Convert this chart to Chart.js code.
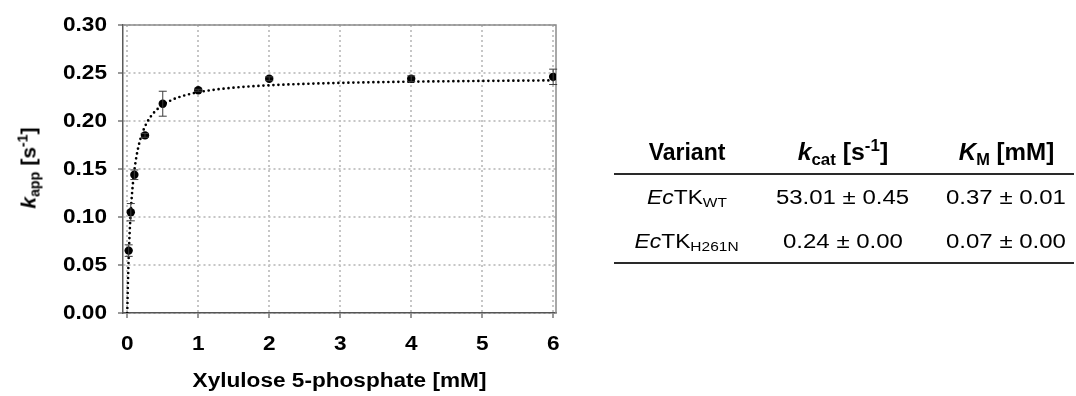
<!DOCTYPE html>
<html>
<head>
<meta charset="utf-8">
<script src="https://cdn.jsdelivr.net/npm/chart.js@4/dist/chart.umd.min.js"></script>
<style>
  html, body { margin: 0; padding: 0; background: #fff; }
  body { width: 1076px; height: 396px; position: relative; overflow: hidden;
         font-family: 'Liberation Sans', Arial, sans-serif; color: #000; }
  #chartBox { position: absolute; left: 0; top: 0; width: 600px; height: 396px; }
  #yTitle { position: absolute; left: 28px; top: 168px; white-space: nowrap;
            font-weight: bold; font-size: 21px; line-height: 1;
            transform: translate(-50%, -50%) rotate(-90deg); }
  #yTitle sub, #yTitle sup, .tbl sub, .tbl sup { line-height: 0; font-size: 0.68em; }
  #yTitle sub { vertical-align: -0.3em; }
  #yTitle sup { vertical-align: 0.55em; }
  .tbl { position: absolute; white-space: nowrap; text-align: center; line-height: 1; }
  .tbl span.cell { display: inline-block; }
  .head { font-weight: bold; font-size: 23px; }
  .body { font-size: 20px; }
  .rule { position: absolute; left: 614px; width: 460px; height: 1.5px; background: #2a2a2a; }
</style>
</head>
<body>
<div id="chartBox"><canvas id="kinetics"></canvas></div>
<div id="yTitle"><i>k</i><sub>app</sub> [s<sup>-1</sup>]</div>
<div id="table"></div>

<script>
// Measured apparent rates of EcTK H261N vs. xylulose 5-phosphate
const xConc   = [0.02, 0.05, 0.1, 0.25, 0.5, 1, 2, 4, 6];              // mM
const kApp    = [0.065, 0.105, 0.144, 0.185, 0.218, 0.232, 0.244, 0.244, 0.246]; // s^-1
const kAppErr = [0.006, 0.009, 0.005, 0.002, 0.013, 0.001, 0.002, 0.003, 0.008];

// Axis ticks
const xTicks = [0, 1, 2, 3, 4, 5, 6];
const yTicks = [0, 0.05, 0.10, 0.15, 0.20, 0.25, 0.30];

// Michaelis–Menten fit parameters of the plotted variant
const fitVmax = 0.2449;  // s^-1
const fitKm   = 0.065;   // mM

// Kinetic parameter table
const variantNames = ['WT', 'H261N'];
const kcatMean = [53.01, 0.24];
const kcatSd   = [0.45, 0.00];
const kmMean   = [0.37, 0.07];
const kmSd     = [0.01, 0.00];

const FONT = "'Liberation Sans', Arial, sans-serif";
const TEXT_STRETCH = 1.13;

// fit curve sampled densely near zero where it rises steeply
const fitCurve = [];
for (let i = 0; i <= 400; i++) {
  const s = 6 * Math.pow(i / 400, 2);
  fitCurve.push({ x: s, y: fitVmax * s / (fitKm + s) });
}
const points = xConc.map((x, i) => ({ x, y: kApp[i] }));

// slightly wide glyphs for the axis texts
const wideText = {
  id: 'wideText',
  beforeDraw(chart) {
    const ctx = chart.ctx;
    if (ctx.__wide) return;
    const fill = ctx.fillText;
    ctx.fillText = function (text, x, y) {
      this.save();
      this.translate(x, y);
      this.scale(TEXT_STRETCH, 1);
      fill.call(this, text, 0, 0);
      this.restore();
    };
    ctx.__wide = true;
  }
};

// top and right edges of the plot frame
const frame = {
  id: 'frame',
  beforeDatasetsDraw(chart) {
    const { ctx, chartArea: a } = chart;
    ctx.save();
    ctx.strokeStyle = '#8c8c8c';
    ctx.lineWidth = 1.5;
    ctx.beginPath();
    ctx.moveTo(a.left, a.top);
    ctx.lineTo(a.right, a.top);
    ctx.lineTo(a.right, a.bottom);
    ctx.stroke();
    ctx.restore();
  }
};

// standard deviation whiskers
const errorBars = {
  id: 'errorBars',
  afterDatasetsDraw(chart) {
    const { ctx } = chart;
    const xs = chart.scales.x, ys = chart.scales.y;
    ctx.save();
    ctx.strokeStyle = '#3c3c3c';
    ctx.lineWidth = 1;
    xConc.forEach((xv, i) => {
      const px = xs.getPixelForValue(xv);
      const top = ys.getPixelForValue(kApp[i] + kAppErr[i]);
      const bot = ys.getPixelForValue(kApp[i] - kAppErr[i]);
      const cap = 4;
      ctx.beginPath();
      ctx.moveTo(px, top); ctx.lineTo(px, bot);
      ctx.moveTo(px - cap, top); ctx.lineTo(px + cap, top);
      ctx.moveTo(px - cap, bot); ctx.lineTo(px + cap, bot);
      ctx.stroke();
    });
    ctx.restore();
  }
};

new Chart(document.getElementById('kinetics'), {
  type: 'scatter',
  data: {
    datasets: [
      {
        data: fitCurve,
        showLine: true,
        borderColor: '#000',
        borderWidth: 2.7,
        borderDash: [0, 5],
        borderCapStyle: 'round',
        pointRadius: 0,
        tension: 0,
        order: 2
      },
      {
        data: points,
        showLine: false,
        pointRadius: 4.2,
        pointBackgroundColor: '#000',
        pointBorderWidth: 0,
        order: 1
      }
    ]
  },
  options: {
    responsive: true,
    maintainAspectRatio: false,
    animation: false,
    events: [],
    layout: { padding: { left: 0, top: 25, right: 44, bottom: 0 } },
    plugins: { legend: { display: false }, tooltip: { enabled: false } },
    scales: {
      x: {
        type: 'linear',
        min: -0.06,
        max: 6.04,
        afterBuildTicks: s => { s.ticks = xTicks.map(v => ({ value: v })); },
        afterFit: s => { s.height = 83; },
        ticks: {
          color: '#000',
          padding: 14,
          font: { family: FONT, size: 20, weight: 'bold' },
          callback: v => String(v)
        },
        grid: {
          color: '#c6c6c6',
          lineWidth: 2,
          tickLength: 5,
          tickColor: '#555',
          tickWidth: 1.2,
          tickBorderDash: []
        },
        border: { color: '#555', width: 1.5, dash: [2, 3] },
        title: {
          display: true,
          text: 'Xylulose 5-phosphate [mM]',
          color: '#000',
          font: { family: FONT, size: 20, weight: 'bold' },
          padding: { top: 0, bottom: 3 }
        }
      },
      y: {
        type: 'linear',
        min: 0,
        max: 0.30,
        afterBuildTicks: s => { s.ticks = yTicks.map(v => ({ value: v })); },
        afterFit: s => { s.width = 123; },
        ticks: {
          color: '#000',
          padding: 11,
          font: { family: FONT, size: 20, weight: 'bold' },
          callback: v => Number(v).toFixed(2)
        },
        grid: {
          color: '#c6c6c6',
          lineWidth: 2,
          tickLength: 5,
          tickColor: '#555',
          tickWidth: 1.2,
          tickBorderDash: []
        },
        border: { color: '#5a5a5a', width: 1.5, dash: [2, 3] }
      }
    }
  },
  plugins: [wideText, frame, errorBars]
});

// kinetic parameter table
const fmt = (m, s) => m.toFixed(2) + ' \u00b1 ' + s.toFixed(2);
const table = document.getElementById('table');
const cols = [687, 843, 1006];
function cell(cls, html, cx, top, stretch) {
  const d = document.createElement('div');
  d.className = 'tbl ' + cls;
  d.style.left = (cx - 150) + 'px';
  d.style.width = '300px';
  d.style.top = top + 'px';
  d.innerHTML = '<span class="cell" style="transform:scaleX(' + stretch + ')">' + html + '</span>';
  table.appendChild(d);
}
cell('head', 'Variant', cols[0], 140.5, 1);
cell('head', '<i>k</i><sub style="vertical-align:-0.35em">cat</sub> [s<sup style="vertical-align:0.6em">-1</sup>]', cols[1], 140.5, 1.08);
cell('head', '<i>K</i><sub style="vertical-align:-0.3em">M</sub> [mM]', cols[2], 140.5, 1.05);
const rowTops = [187.4, 231.4];
variantNames.forEach((v, i) => {
  cell('body', '<i>Ec</i>TK<sub style="vertical-align:-0.25em">' + v + '</sub>', cols[0], rowTops[i], 1.14);
  cell('body', fmt(kcatMean[i], kcatSd[i]), cols[1], rowTops[i], 1.2);
  cell('body', fmt(kmMean[i], kmSd[i]), cols[2], rowTops[i], 1.2);
});
[173, 262].forEach(y => {
  const r = document.createElement('div');
  r.className = 'rule';
  r.style.top = y + 'px';
  table.appendChild(r);
});
</script>
</body>
</html>
